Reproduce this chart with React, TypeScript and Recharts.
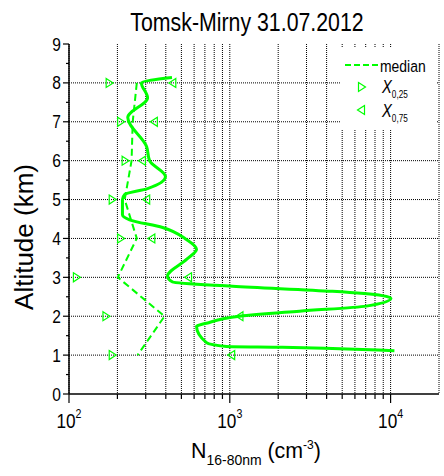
import {
  CartesianGrid,
  ComposedChart,
  Line,
  ReferenceLine,
  Scatter,
  XAxis,
  YAxis,
} from "recharts";

const GREEN = "#00ff00";
const SANS = "'Liberation Sans', Arial, sans-serif";
const SQUEEZE = 0.82; // the source uses a narrow face

// statistics at fixed altitude levels (km)
const levels = [8, 7, 6, 5, 4, 3, 2, 1];
const median = [264, 249, 245, 222, 264, 201, 393, 267];
const quartile25 = [179, 211, 225, 187, 211, 112, 171, 187];
const quartile75 = [439, 337, 284, 302, 325, 550, 1148, 1020];

// points read along the smoothed solid profile
const profileAlt = [
  8.14, 8.0, 7.62, 7.11, 6.36, 6.0, 5.59, 5.28, 5.13, 5.0, 4.61, 4.48, 4.28,
  3.97, 3.72, 3.46, 3.03, 2.88, 2.77, 2.64, 2.53, 2.46, 2.26, 2.13, 2.0, 1.82,
  1.74, 1.32, 1.22, 1.2, 1.17, 1.11,
];
const profileN = [
  437, 282, 308, 232, 304, 317, 398, 308, 222, 215, 215, 238, 382, 538, 621,
  538, 410, 441, 1040, 4350, 8870, 10050, 7060, 2710, 1150, 716, 621, 716, 953,
  2120, 4350, 10560,
];

const xTicks = [
  100, 200, 300, 400, 500, 600, 700, 800, 900, 1000, 2000, 3000, 4000, 5000,
  6000, 7000, 8000, 9000, 10000,
];
const yTicks = [
  0, 0.5, 1, 1.5, 2, 2.5, 3, 3.5, 4, 4.5, 5, 5.5, 6, 6.5, 7, 7.5, 8, 8.5, 9,
];
const yMajor = [0, 1, 2, 3, 4, 5, 6, 7, 8, 9];
const gridLevels = [1, 2, 3, 4, 5, 6, 7, 8];

const profile = profileAlt.map((alt, i) => ({ alt, v: profileN[i] }));
const medianData = levels.map((alt, i) => ({ alt, v: median[i] }));
const q25Data = levels.map((alt, i) => ({ alt, v: quartile25[i] }));
const q75Data = levels.map((alt, i) => ({ alt, v: quartile75[i] }));

const isDecade = (v: number) => {
  const e = Math.log10(v);
  return Math.abs(e - Math.round(e)) < 1e-9;
};

// text squeezed horizontally to mimic Arial Narrow
function Narrow({ x, y, squeeze = SQUEEZE, children, ...rest }: any) {
  return (
    <g transform={`translate(${x},${y}) scale(${squeeze},1)`}>
      <text x={0} y={0} fontFamily={SANS} fill="#000" {...rest}>
        {children}
      </text>
    </g>
  );
}

function Tri({ cx, cy, dir }: { cx: number; cy: number; dir: number }) {
  const w = 3.5 * dir;
  return (
    <path
      d={`M${cx - w},${cy - 4.5}L${cx + w},${cy}L${cx - w},${cy + 4.5}Z`}
      fill="none"
      stroke={GREEN}
      strokeWidth={1.2}
    />
  );
}

function BottomTick({ x, y, payload }: any) {
  const v = payload.value;
  const major = isDecade(v);
  return (
    <g>
      <line x1={x} x2={x} y1={y} y2={y + (major ? 9 : 5)} stroke="#000" strokeWidth={1.2} />
      {major && (
        <Narrow x={x} y={y + 34} textAnchor="middle" fontSize={21}>
          10
          <tspan dy={-10} fontSize={13}>
            {Math.round(Math.log10(v))}
          </tspan>
        </Narrow>
      )}
    </g>
  );
}

function TopTick({ x, y, payload }: any) {
  const major = isDecade(payload.value);
  return <line x1={x} x2={x} y1={y} y2={y + (major ? 8 : 4)} stroke="#000" strokeWidth={1.2} />;
}

function LeftTick({ x, y, payload }: any) {
  const v = payload.value;
  const major = Number.isInteger(v);
  return (
    <g>
      <line x1={x - (major ? 6 : 3)} x2={x} y1={y} y2={y} stroke="#000" strokeWidth={1.2} />
      {major && (
        <Narrow x={x - 8} y={y + 6.5} textAnchor="end" fontSize={19}>
          {v}
        </Narrow>
      )}
    </g>
  );
}

function RightTick({ x, y }: any) {
  return <line x1={x} x2={x + 3} y1={y} y2={y} stroke="#000" strokeWidth={1.2} />;
}

function XTitle({ viewBox }: any) {
  return (
    <Narrow
      x={viewBox.x + viewBox.width / 2 + 2}
      y={viewBox.y + 64}
      squeeze={0.93}
      textAnchor="middle"
      fontSize={23}
    >
      N
      <tspan dy={7} fontSize={15}>
        16-80nm
      </tspan>
      <tspan dy={-7}> (cm</tspan>
      <tspan dy={-9} fontSize={13}>
        -3
      </tspan>
      <tspan dy={9}>)</tspan>
    </Narrow>
  );
}

function YTitle() {
  return (
    <text
      transform="translate(33, 237) rotate(-90)"
      textAnchor="middle"
      fontFamily={SANS}
      fontSize={26}
      fill="#000"
    >
      Altitude (km)
    </text>
  );
}

function ChartTitle() {
  return (
    <svg width={444} height={40} style={{ position: "absolute", left: 0, top: 0 }}>
      <Narrow x={247} y={31} textAnchor="middle" fontSize={26}>
        Tomsk-Mirny 31.07.2012
      </Narrow>
    </svg>
  );
}

function LegendBox() {
  return (
    <div
      style={{
        position: "absolute",
        left: 341,
        top: 47,
        width: 96,
        height: 83,
        background: "#fff",
      }}
    >
      <svg width={96} height={83}>
        <line x1={4} x2={38} y1={18} y2={18} stroke={GREEN} strokeWidth={2} strokeDasharray="6 3" />
        <Narrow x={39} y={25} fontSize={17}>
          median
        </Narrow>
        <Tri cx={21} cy={40} dir={1} />
        <Narrow x={41} y={46} fontSize={18} fontStyle="italic">
          X
          <tspan dy={5} fontSize={10} fontStyle="normal">
            0,25
          </tspan>
        </Narrow>
        <Tri cx={20} cy={63} dir={-1} />
        <Narrow x={41} y={70} fontSize={18} fontStyle="italic">
          X
          <tspan dy={5} fontSize={10} fontStyle="normal">
            0,75
          </tspan>
        </Narrow>
      </svg>
    </div>
  );
}

export default function App() {
  return (
    <div style={{ position: "absolute", left: 0, top: 0, width: 444, height: 476, background: "#fff" }}>
      <ComposedChart
        layout="vertical"
        width={444}
        height={476}
        margin={{ top: 44, right: 5, bottom: 0, left: 0 }}
      >
        <CartesianGrid horizontal={false} stroke="#000" strokeDasharray="1 1" />
        {gridLevels.map((lv) => (
          <ReferenceLine key={lv} y={lv} stroke="#000" strokeDasharray="1 1" />
        ))}
        <XAxis
          dataKey="v"
          type="number"
          scale="log"
          domain={[100, 20000]}
          allowDataOverflow
          ticks={xTicks}
          interval={0}
          height={82}
          tickSize={0}
          tickMargin={0}
          tick={<BottomTick />}
          axisLine={{ stroke: "#000", strokeWidth: 1.5 }}
          label={{ content: <XTitle /> }}
        />
        <XAxis
          xAxisId="top"
          orientation="top"
          type="number"
          scale="log"
          domain={[100, 20000]}
          allowDataOverflow
          ticks={xTicks}
          interval={0}
          height={0}
          tickSize={0}
          tickMargin={0}
          tick={<TopTick />}
          axisLine={{ stroke: "#000", strokeWidth: 1.5 }}
        />
        <YAxis
          dataKey="alt"
          type="number"
          domain={[0, 9]}
          reversed
          ticks={yTicks}
          interval={0}
          width={69}
          tickSize={0}
          tickMargin={0}
          tick={<LeftTick />}
          axisLine={{ stroke: "#000", strokeWidth: 1.5 }}
          label={{ content: <YTitle /> }}
        />
        <YAxis
          yAxisId="right"
          orientation="right"
          type="number"
          domain={[0, 9]}
          reversed
          ticks={yMajor}
          interval={0}
          width={0}
          tickSize={0}
          tickMargin={0}
          tick={<RightTick />}
          axisLine={{ stroke: "#000", strokeWidth: 1.5 }}
        />
        <Line
          data={profile}
          dataKey="v"
          type="monotone"
          stroke={GREEN}
          strokeWidth={3}
          dot={false}
          isAnimationActive={false}
        />
        <Line
          data={medianData}
          dataKey="v"
          type="linear"
          stroke={GREEN}
          strokeWidth={2}
          strokeDasharray="7 4"
          dot={false}
          isAnimationActive={false}
        />
        <Scatter
          data={q25Data}
          dataKey="v"
          isAnimationActive={false}
          shape={(p: any) => <Tri cx={p.cx} cy={p.cy} dir={1} />}
        />
        <Scatter
          data={q75Data}
          dataKey="v"
          isAnimationActive={false}
          shape={(p: any) => <Tri cx={p.cx} cy={p.cy} dir={-1} />}
        />
      </ComposedChart>
      <ChartTitle />
      <LegendBox />
    </div>
  );
}
